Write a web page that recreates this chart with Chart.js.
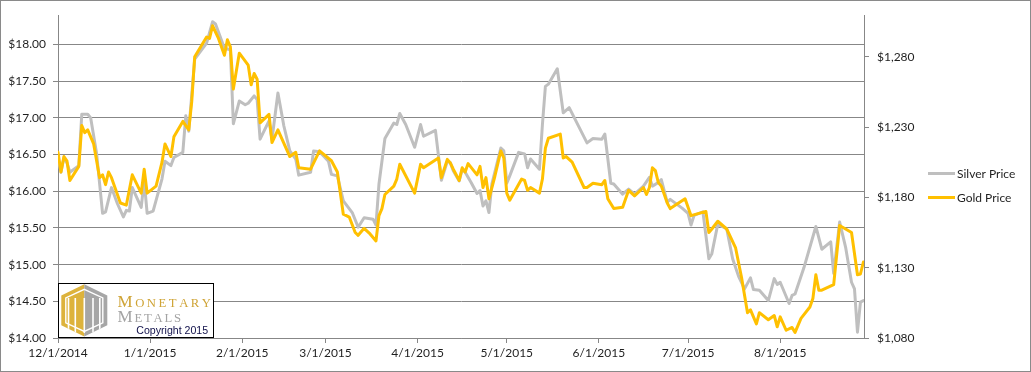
<!DOCTYPE html>
<html><head><meta charset="utf-8">
<script src="https://cdn.jsdelivr.net/npm/chart.js@4.4.1/dist/chart.umd.min.js"></script>
<style>html,body{margin:0;padding:0;background:#fff;}canvas{display:block;}</style>
</head><body>
<canvas id="c" width="1031" height="372"></canvas>
<script>
const seriesNames = ['Silver Price', 'Gold Price'];

const goldDates = [
 '12/1/2014','12/2/2014','12/3/2014','12/4/2014','12/5/2014','12/8/2014','12/9/2014','12/10/2014','12/11/2014','12/13/2014','12/15/2014','12/16/2014','12/17/2014','12/18/2014','12/19/2014','12/22/2014','12/24/2014','12/26/2014','12/29/2014','12/30/2014','12/31/2014',
 '1/3/2015','1/5/2015','1/6/2015','1/8/2015','1/9/2015','1/12/2015','1/14/2015','1/15/2015','1/16/2015','1/20/2015','1/21/2015','1/22/2015','1/24/2015','1/26/2015','1/27/2015','1/28/2015','1/29/2015','1/31/2015',
 '2/3/2015','2/4/2015','2/5/2015','2/6/2015','2/7/2015','2/10/2015','2/11/2015','2/13/2015','2/17/2015','2/19/2015','2/20/2015','2/24/2015','2/27/2015',
 '3/3/2015','3/5/2015','3/7/2015','3/9/2015','3/11/2015','3/12/2015','3/14/2015','3/16/2015','3/18/2015','3/19/2015','3/20/2015','3/21/2015','3/24/2015','3/25/2015','3/26/2015','3/31/2015',
 '4/2/2015','4/3/2015','4/8/2015','4/9/2015','4/11/2015','4/12/2015','4/13/2015','4/15/2015','4/16/2015','4/17/2015','4/18/2015','4/21/2015','4/22/2015','4/23/2015','4/24/2015','4/25/2015','4/27/2015','4/29/2015','4/30/2015',
 '5/1/2015','5/2/2015','5/6/2015','5/7/2015','5/8/2015','5/9/2015','5/12/2015','5/13/2015','5/14/2015','5/15/2015','5/19/2015','5/20/2015','5/21/2015','5/23/2015','5/27/2015','5/28/2015','5/30/2015',
 '6/2/2015','6/3/2015','6/4/2015','6/6/2015','6/9/2015','6/10/2015','6/11/2015','6/13/2015','6/16/2015','6/17/2015','6/18/2015','6/19/2015','6/20/2015','6/21/2015','6/22/2015','6/24/2015','6/25/2015','6/30/2015',
 '7/2/2015','7/7/2015','7/8/2015','7/9/2015','7/11/2015','7/14/2015','7/17/2015','7/19/2015','7/21/2015','7/22/2015','7/24/2015','7/25/2015','7/28/2015','7/30/2015','7/31/2015',
 '8/1/2015','8/3/2015','8/5/2015','8/6/2015','8/8/2015','8/11/2015','8/12/2015','8/13/2015','8/14/2015','8/15/2015','8/19/2015','8/21/2015','8/25/2015','8/27/2015','8/28/2015','8/29/2015'
];
const goldPrices = [
 1212,1198,1209,1206,1192,1202,1231,1226,1228,1218,1194,1196,1189,1198,1194,1176,1174.5,1196,1183,1200,1183,
 1188,1205,1218,1209,1223,1234,1228,1248,1280,1294,1293,1302,1293,1281,1292,1287,1257,1282.5,
 1274,1260,1268,1264,1233,1239,1219,1228,1209,1212,1201,1200,1213,
 1206,1198,1168,1166,1155,1153,1158,1154,1149,1167,1172,1182,1188,1193,1203.5,1183,
 1203.5,1201,1208,1194,1207,1204.5,1200,1192,1201,1198,1204,1196,1202,1187,1194,1179,1195,1213,1208,
 1183,1178,1193,1192,1185,1187,1183,1193,1215,1222,1225,1208,1209,1205,1187,1187,1190,
 1189,1192,1179,1172,1173,1179,1185,1181,1187,1182,1187,1201,1199,1190.5,1188,1176,1172,1179,
 1167,1170,1155,1157.5,1163,1157.5,1144,1123,1098,1100,1090,1098,1093,1096,1088,
 1095,1085.5,1087.5,1084,1094,1102,1108,1125,1114,1114,1118,1160,1155,1125,1125.5,1134
];

const silverDates = [
 '12/1/2014','12/2/2014','12/3/2014','12/4/2014','12/5/2014','12/8/2014','12/9/2014','12/11/2014','12/12/2014','12/14/2014','12/16/2014','12/17/2014','12/19/2014','12/21/2014','12/23/2014','12/24/2014','12/25/2014','12/26/2014','12/29/2014','12/30/2014','12/31/2014',
 '1/2/2015','1/5/2015','1/6/2015','1/8/2015','1/9/2015','1/12/2015','1/13/2015','1/14/2015','1/16/2015','1/20/2015','1/22/2015','1/23/2015','1/26/2015','1/28/2015','1/29/2015','1/31/2015',
 '2/2/2015','2/3/2015','2/5/2015','2/6/2015','2/7/2015','2/10/2015','2/11/2015','2/13/2015','2/15/2015','2/17/2015','2/19/2015','2/20/2015','2/24/2015','2/25/2015','2/27/2015',
 '3/2/2015','3/3/2015','3/5/2015','3/7/2015','3/10/2015','3/12/2015','3/14/2015','3/17/2015','3/18/2015','3/19/2015','3/21/2015','3/24/2015','3/25/2015','3/26/2015','3/28/2015','3/31/2015',
 '4/2/2015','4/3/2015','4/7/2015','4/9/2015','4/11/2015','4/12/2015','4/13/2015','4/15/2015','4/16/2015','4/17/2015','4/19/2015','4/21/2015','4/22/2015','4/23/2015','4/24/2015','4/25/2015','4/26/2015','4/29/2015','4/30/2015',
 '5/1/2015','5/2/2015','5/5/2015','5/7/2015','5/8/2015','5/9/2015','5/12/2015','5/13/2015','5/14/2015','5/15/2015','5/18/2015','5/20/2015','5/22/2015','5/28/2015','5/30/2015',
 '6/2/2015','6/3/2015','6/5/2015','6/6/2015','6/9/2015','6/11/2015','6/13/2015','6/16/2015','6/18/2015','6/19/2015','6/21/2015','6/22/2015','6/24/2015','6/25/2015','6/29/2015',
 '7/1/2015','7/2/2015','7/3/2015','7/6/2015','7/8/2015','7/9/2015','7/11/2015','7/14/2015','7/16/2015','7/18/2015','7/20/2015','7/22/2015','7/23/2015','7/25/2015','7/28/2015','7/30/2015','7/31/2015',
 '8/1/2015','8/4/2015','8/5/2015','8/6/2015','8/9/2015','8/13/2015','8/15/2015','8/18/2015','8/19/2015','8/21/2015','8/23/2015','8/25/2015','8/26/2015','8/27/2015','8/28/2015','8/29/2015'
];
const silverPrices = [
 16.46,16.26,16.46,16.39,16.26,16.35,17.05,17.05,17.00,16.51,15.70,15.72,16.05,15.83,15.65,15.74,15.73,16.05,15.78,16.14,15.70,
 15.73,16.17,16.41,16.35,16.46,16.53,17.03,16.82,17.80,18.02,18.31,18.28,17.95,17.93,16.92,17.23,
 17.18,17.20,17.30,17.25,16.71,16.96,16.71,17.34,16.89,16.55,16.44,16.22,16.26,16.55,16.54,
 16.41,16.23,16.21,15.87,15.71,15.51,15.64,15.62,15.54,16.10,16.72,16.93,16.91,17.06,16.91,16.60,
 16.91,16.75,16.83,16.15,16.41,16.39,16.28,16.14,16.30,16.26,16.12,15.97,16.01,15.80,15.87,15.71,16.10,16.59,16.55,
 16.11,16.21,16.53,16.51,16.32,16.44,16.30,16.91,17.43,17.46,17.67,17.07,17.14,16.66,16.72,
 16.71,16.78,16.11,16.10,15.96,16.03,15.96,16.07,16.19,16.07,16.12,16.16,15.85,15.89,15.77,
 15.70,15.54,15.67,15.72,15.08,15.15,15.55,15.49,15.08,14.84,14.67,14.82,14.66,14.65,14.51,14.81,14.73,
 14.76,14.47,14.58,14.60,14.96,15.52,15.21,15.31,14.88,15.58,15.24,14.76,14.67,14.08,14.49,14.51
];

const xTickLabels = ['12/1/2014','1/1/2015','2/1/2015','3/1/2015','4/1/2015','5/1/2015','6/1/2015','7/1/2015','8/1/2015'];
const silverTicks = [14, 14.5, 15, 15.5, 16, 16.5, 17, 17.5, 18];
const goldTicks = [1080, 1130, 1180, 1230, 1280];

const TEXT = '#1f1f1f';
const AXIS = '#878787';
const SILVER = '#BFBFBF';
const GOLD = '#FFC000';

function dayIndex(s) {
  const [m, d, y] = s.split('/').map(Number);
  return (Date.UTC(y, m - 1, d) - Date.UTC(2014, 11, 1)) / 86400000;
}
const toPoints = (dates, vals) => dates.map((d, i) => ({ x: dayIndex(d), y: vals[i] }));

Chart.defaults.font.family = 'Lato, "Liberation Sans", sans-serif';
Chart.defaults.font.size = 12;
Chart.defaults.color = TEXT;

function spacedText(ctx, parts, x0, x1, baseline, color) {
  const chars = [];
  parts.forEach(([t, s]) => { for (const ch of t) chars.push([ch, s]); });
  let total = 0;
  const ws = chars.map(([ch, s]) => { ctx.font = s + 'px "Liberation Serif"'; const w = ctx.measureText(ch).width; total += w; return w; });
  const gap = (x1 - x0 - total) / (chars.length - 1);
  let x = x0;
  ctx.fillStyle = color; ctx.textBaseline = 'alphabetic'; ctx.textAlign = 'left';
  chars.forEach(([ch, s], i) => { ctx.font = s + 'px "Liberation Serif"'; ctx.fillText(ch, x, baseline); x += ws[i] + gap; });
}

function drawLogo(ctx) {
  ctx.save();
  ctx.fillStyle = '#fff';
  ctx.fillRect(58.5, 283.5, 155, 54);
  ctx.strokeStyle = '#000'; ctx.lineWidth = 1;
  ctx.strokeRect(58.5, 283.5, 155, 54);
  const cx = 84.3, top = 284.2, bot = 336.6, y1 = 295.5, y2 = 325.3, hw = 23;
  const hex = (inset) => {
    ctx.beginPath();
    ctx.moveTo(cx, top + inset * 1.15);
    ctx.lineTo(cx + hw - inset, y1 + inset * 0.55);
    ctx.lineTo(cx + hw - inset, y2 - inset * 0.55);
    ctx.lineTo(cx, bot - inset * 1.15);
    ctx.lineTo(cx - hw + inset, y2 - inset * 0.55);
    ctx.lineTo(cx - hw + inset, y1 + inset * 0.55);
    ctx.closePath();
  };
  ctx.save();
  hex(0); ctx.clip();
  ctx.fillStyle = '#DDB33C'; ctx.fillRect(cx - hw - 1, top - 1, hw + 1, bot - top + 2);
  ctx.fillStyle = '#A6A6A6'; ctx.fillRect(cx, top - 1, hw + 1, bot - top + 2);
  ctx.strokeStyle = '#fff'; ctx.lineWidth = 1.4;
  hex(4.5); ctx.stroke();
  ctx.lineWidth = 1.6;
  [68.5, 75.3, 84.3, 93.0, 99.8].forEach(x => {
    ctx.beginPath(); ctx.moveTo(x, 298); ctx.lineTo(x, 333); ctx.stroke();
  });
  ctx.restore();
  spacedText(ctx, [['M', 17], ['ONETARY', 12.7]], 117.5, 211, 306.7, '#CFA436');
  spacedText(ctx, [['M', 17], ['ETALS', 12.7]], 117.5, 181, 322.3, '#A3A3A3');
  ctx.font = '10.6px "Liberation Sans", Arial, sans-serif';
  ctx.fillStyle = '#10104a'; ctx.textBaseline = 'alphabetic'; ctx.textAlign = 'left';
  ctx.fillText('Copyright 2015', 136.3, 334);
  ctx.restore();
}

const decor = {
  id: 'decor',
  beforeDraw(chart) {
    const ctx = chart.ctx;
    ctx.save(); ctx.fillStyle = '#fff'; ctx.fillRect(0, 0, chart.width, chart.height); ctx.restore();
  },
  afterDraw(chart) {
    const ctx = chart.ctx;
    ctx.save();
    const rows = [173.5, 197.5];
    chart.data.datasets.forEach((ds, i) => {
      ctx.strokeStyle = ds.borderColor; ctx.lineWidth = 3; ctx.lineCap = 'butt';
      ctx.beginPath(); ctx.moveTo(928, rows[i]); ctx.lineTo(955, rows[i]); ctx.stroke();
      ctx.fillStyle = TEXT; ctx.font = '12px Lato, "Liberation Sans", sans-serif';
      ctx.textBaseline = 'middle'; ctx.textAlign = 'left';
      ctx.fillText(ds.label, 957, rows[i] + 0.5);
    });
    drawLogo(ctx);
    ctx.strokeStyle = '#8a8a8a'; ctx.lineWidth = 1;
    ctx.strokeRect(0.5, 0.5, chart.width - 1, chart.height - 1);
    ctx.restore();
  }
};

new Chart(document.getElementById('c'), {
  type: 'line',
  data: {
    datasets: [
      { label: seriesNames[0], data: toPoints(silverDates, silverPrices), yAxisID: 'y',
        borderColor: SILVER, borderWidth: 3, pointRadius: 0, tension: 0, order: 1,
        borderJoinStyle: 'round', borderCapStyle: 'round' },
      { label: seriesNames[1], data: toPoints(goldDates, goldPrices), yAxisID: 'y1',
        borderColor: GOLD, borderWidth: 3, pointRadius: 0, tension: 0, order: 0,
        borderJoinStyle: 'round', borderCapStyle: 'round' }
    ]
  },
  options: {
    responsive: false,
    animation: false,
    devicePixelRatio: 1,
    layout: { padding: { left: 0, right: 107, top: 14, bottom: 0 } },
    plugins: { legend: { display: false }, tooltip: { enabled: false } },
    scales: {
      x: {
        type: 'linear', min: 0, max: dayIndex('8/29/2015') + 0.2,
        afterBuildTicks: s => { s.ticks = xTickLabels.map(d => ({ value: dayIndex(d) })); },
        ticks: { autoSkip: false, maxRotation: 0, minRotation: 0, padding: 3, color: TEXT,
                 callback: (v, i) => xTickLabels[i] },
        grid: { drawOnChartArea: false, drawTicks: true, tickLength: 5, color: AXIS },
        border: { color: AXIS, width: 1 },
        afterFit: s => { s.height = 34; }
      },
      y: {
        position: 'left', min: 14, max: 18.4,
        afterBuildTicks: s => { s.ticks = silverTicks.map(v => ({ value: v })); },
        ticks: { padding: 7, color: TEXT, callback: v => '$' + Number(v).toFixed(2) },
        grid: { color: AXIS, tickLength: 5, drawTicks: true },
        border: { color: AXIS, width: 1 },
        afterFit: s => { s.width = 58; }
      },
      y1: {
        position: 'right', min: 1080, max: 1309.5,
        afterBuildTicks: s => { s.ticks = goldTicks.map(v => ({ value: v })); },
        ticks: { padding: 8, color: TEXT, callback: v => '$' + Number(v).toLocaleString('en-US') },
        grid: { drawOnChartArea: false, drawTicks: true, tickLength: 5, color: AXIS },
        border: { color: AXIS, width: 1 },
        afterFit: s => { s.width = 60; }
      }
    }
  },
  plugins: [decor]
});
</script>
</body></html>
